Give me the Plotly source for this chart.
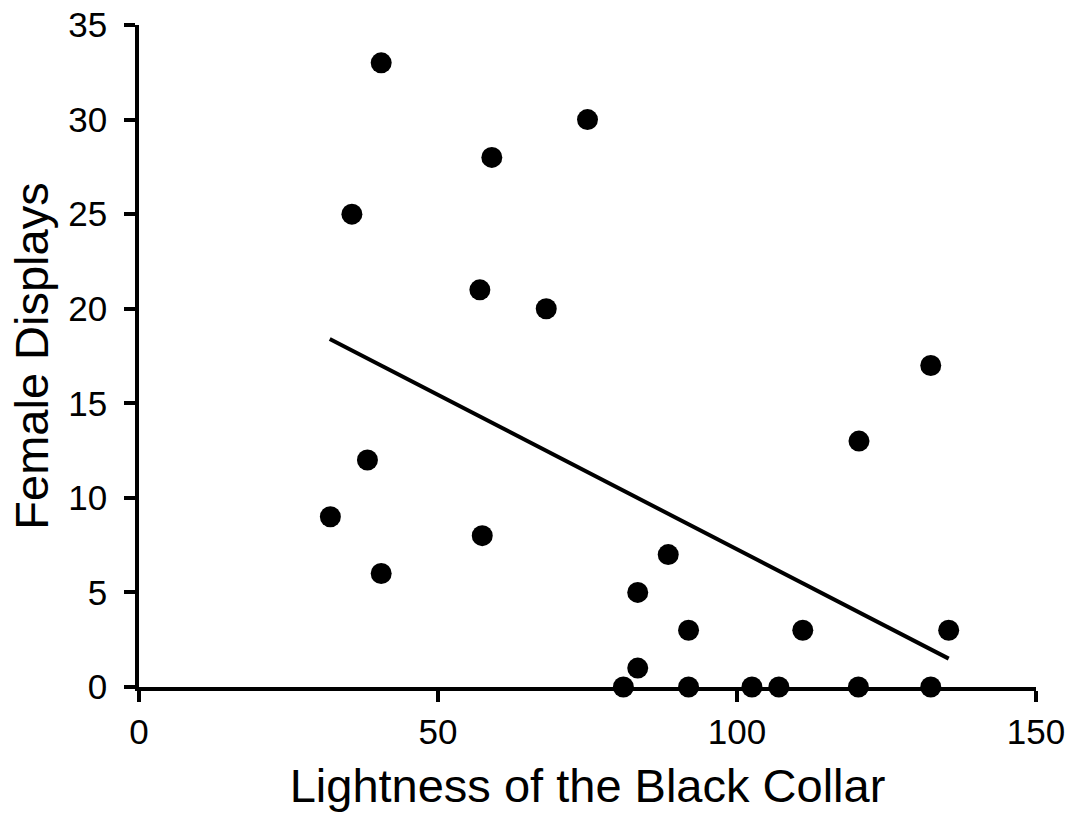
import plotly.graph_objects as go

# Data
lightness = [40.5, 75.0, 59.0, 35.6, 57.0, 68.1, 132.4, 120.4, 38.2, 32.0, 57.4, 88.5,
             40.5, 83.4, 91.9, 111.0, 135.4, 83.4, 81.0, 91.9, 102.5, 107.0, 120.3, 132.4]
female_displays = [33, 30, 28, 25, 21, 20, 17, 13, 12, 9, 8, 7,
                   6, 5, 3, 3, 3, 1, 0, 0, 0, 0, 0, 0]

trend_x = [31.9, 135.4]
trend_y = [18.4, 1.5]

x_ticks = [0, 50, 100, 150]
y_ticks = [0, 5, 10, 15, 20, 25, 30, 35]

FONT = "Liberation Sans, Arial, sans-serif"

fig = go.Figure()
fig.add_trace(go.Scatter(
    x=trend_x, y=trend_y, mode="lines",
    line=dict(color="black", width=4),
    showlegend=False, hoverinfo="skip",
))
fig.add_trace(go.Scatter(
    x=lightness, y=female_displays, mode="markers",
    marker=dict(color="black", size=21, line=dict(width=0)),
    cliponaxis=False, showlegend=False,
))

axis_common = dict(
    showgrid=False, zeroline=False,
    showline=True, linecolor="black", linewidth=3.5,
    ticks="outside", ticklen=11, tickwidth=3.5, tickcolor="black",
    tickfont=dict(family=FONT, size=35, color="black"),
)

fig.update_layout(
    width=1071, height=817,
    margin=dict(l=139, r=35, t=25, b=130, autoexpand=False),
    paper_bgcolor="white", plot_bgcolor="white",
    font=dict(family=FONT, color="black"),
    xaxis=dict(
        range=[0, 150], tickvals=x_ticks, ticktext=[str(v) for v in x_ticks],
        title=dict(text="Lightness of the Black Collar", font=dict(family=FONT, size=47, color="black"), standoff=20),
        ticklabelstandoff=0,
        **axis_common,
    ),
    yaxis=dict(
        range=[0, 35], tickvals=y_ticks, ticktext=[str(v) for v in y_ticks],
        title=dict(text="Female Displays", font=dict(family=FONT, size=47, color="black"), standoff=6),
        ticklabelstandoff=10,
        **axis_common,
    ),
)

fig.write_html("out.html")
